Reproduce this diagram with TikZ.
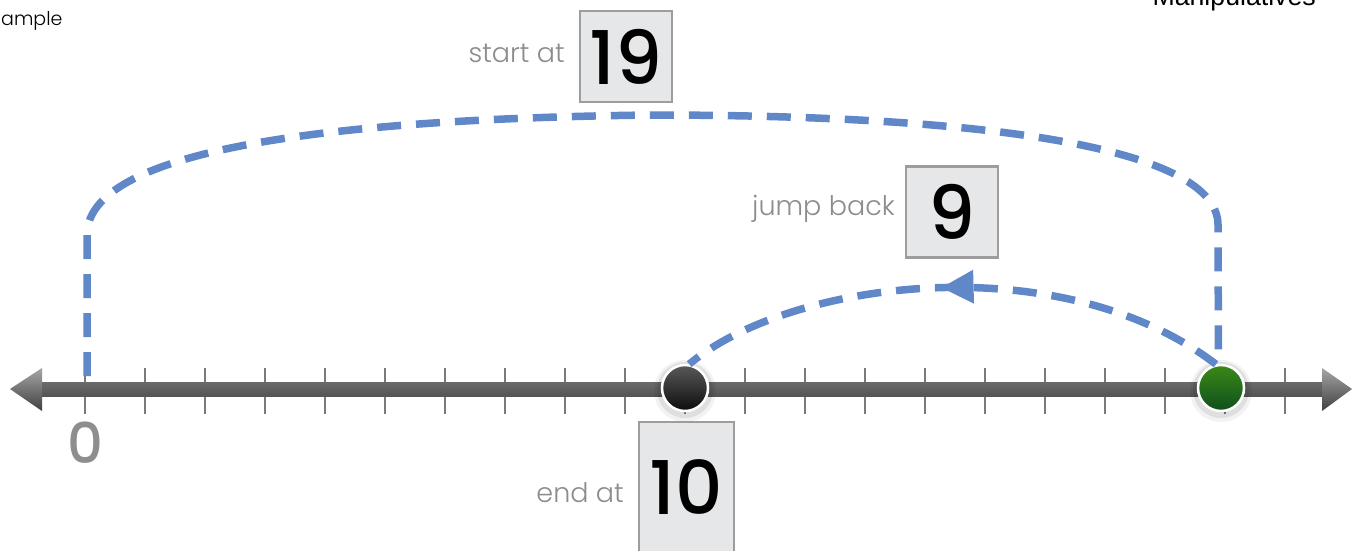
\documentclass[tikz,border=0pt]{standalone}
\usepackage{fontspec}
\setmainfont{Poppins}
\newfontfamily\lightfont{Poppins Light}
\newfontfamily\digitfont{Poppins Medium}
\newfontfamily\arialfont{Liberation Sans}
\usetikzlibrary{decorations.markings}
\definecolor{dashblue}{HTML}{6088C8}
\definecolor{labelgray}{HTML}{8C8C8C}
\definecolor{zerogray}{HTML}{8E8E8E}
\definecolor{boxfill}{HTML}{E6E7E9}
\definecolor{boxborder}{HTML}{9D9D9D}
\definecolor{ticklgray}{HTML}{7A7A7A}
\definecolor{bartop}{HTML}{6A6A6A}
\definecolor{barmid}{HTML}{8E8E8E}
\definecolor{barbot}{HTML}{555555}
\tikzset{
  numbox/.style={draw=boxborder, fill=boxfill, line width=2.5pt, inner sep=0pt,
    minimum width=92pt, minimum height=91pt, text=black,
    font=\digitfont\fontsize{74}{74}\selectfont},
  lab/.style={text=labelgray, inner sep=0pt, anchor=base east,
    font=\lightfont\fontsize{27}{30}\selectfont},
  ball/.style={circle, minimum size=46pt, inner sep=0pt, draw=white, line width=2.5pt},
  tickmark/.style={draw=ticklgray, line width=2.5pt},
  dashline/.style={draw=dashblue, line width=7.5pt, dash pattern=on 24pt off 15pt},
}
\begin{document}
\begin{tikzpicture}[x=1pt,y=-1pt]
\useasboundingbox (0,0) rectangle (1356,550);
\clip (0,0) rectangle (1356,550);
\fill[white] (0,0) rectangle (1356,550);
% ticks
\foreach \k in {0,...,20} \draw[tickmark] (85+60*\k,368) -- (85+60*\k,414);
% axis bar and arrow heads
\shade[top color=bartop, middle color=barmid, bottom color=barbot] (42,382) rectangle (1322,396);
\shade[top color=black!35, bottom color=black!75] (10,389) -- (42,368) -- (42,411) -- cycle;
\shade[top color=black!35, bottom color=black!75] (1352,389) -- (1322,368) -- (1322,411) -- cycle;
% shadows
\fill[black, opacity=0.05] (685,391) circle (31);
\fill[black, opacity=0.08] (685,390) circle (28);
\fill[black, opacity=0.05] (1221,391) circle (31);
\fill[black, opacity=0.08] (1221,390) circle (28);
% balls
\node[ball, top color=black!65, bottom color=black!95] (n10) at (685,388) {};
\node[ball, top color={rgb,255:red,60;green,138;blue,22}, bottom color={rgb,255:red,14;green,78;blue,30}] (n19) at (1221,388) {};
\coordinate (n0) at (87,376);
% zero label
\node[text=zerogray, inner sep=0pt, font=\digitfont\fontsize{56}{56}\selectfont] (lab0) at (85,443) {0};
% dashed jumps
\draw[dashline] (n0) -- (87,235) .. controls (87,165) and (250,120) .. (650,115)
   .. controls (1000,115) and (1218,150) .. (1218,225) -- (n19.96);
\draw[dashline, postaction={decorate}, decoration={markings,
   mark=at position 0.52 with {\fill[dashblue] (0pt,0pt) -- (-32pt,17pt) -- (-32pt,-17pt) -- cycle;}}]
   (n19.102) .. controls (1060,245) and (790,280) .. (n10.80);
% boxes
\node[numbox] (b19) at (626,56.5) {19};
\node[numbox] (b9) at (952,212) {9};
\node[numbox, minimum width=95pt, minimum height=130pt] (b10) at (686.5,487) {10};
% labels
\node[lab] (lstart) at (565,62) {start at};
\node[lab] (ljump) at (895,215) {jump back};
\node[lab] (lend) at (624,502) {end at};
% cut-off texts
\node[inner sep=0pt, anchor=base west, font=\lightfont\fontsize{19}{20}\selectfont] (tl) at (1,25) {ample};
\node[inner sep=0pt, anchor=base east, font=\arialfont\fontsize{26.7}{28}\selectfont] (tr) at (1316,5) {Manipulatives};
\end{tikzpicture}
\end{document}
